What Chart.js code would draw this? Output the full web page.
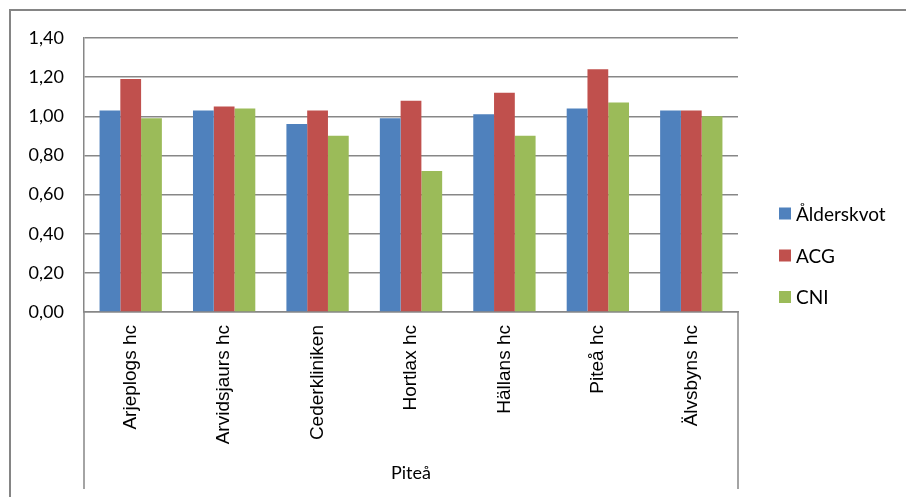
<!DOCTYPE html>
<html>
<head>
<meta charset="utf-8">
<script src="https://cdn.jsdelivr.net/npm/chart.js@4.4.0/dist/chart.umd.min.js"></script>
<style>
  html, body { margin: 0; padding: 0; background: #ffffff; }
  #wrap { width: 906px; height: 497px; }
</style>
</head>
<body>
<div id="wrap"><canvas id="c" width="906" height="497"></canvas></div>
<script>
// Health centres in the Piteå area and their three ratios
const categories = ['Arjeplogs hc', 'Arvidsjaurs hc', 'Cederkliniken', 'Hortlax hc', 'Hällans hc', 'Piteå hc', 'Älvsbyns hc'];
const groupLabel = 'Piteå';
const seriesNames = ['Ålderskvot', 'ACG', 'CNI'];
const alderskvot = [1.03, 1.03, 0.96, 0.99, 1.01, 1.04, 1.03];
const acg        = [1.19, 1.05, 1.03, 1.08, 1.12, 1.24, 1.03];
const cni        = [0.99, 1.04, 0.90, 0.72, 0.90, 1.07, 1.00];
const yMin = 0, yMax = 1.4, yStep = 0.2;

const colors = ['#4F81BD', '#C0504D', '#9BBB59'];
const lineGray = '#878787';
const calibriLike = 'Lato, "Open Sans", sans-serif';

// Frame, category dividers, group label and legend
const framePlugin = {
  id: 'frame',
  beforeDraw(chart) {
    const ctx = chart.ctx;
    ctx.save();
    ctx.fillStyle = '#ffffff';
    ctx.fillRect(0, 0, chart.width, chart.height);
    ctx.restore();
  },
  afterDraw(chart) {
    const ctx = chart.ctx;
    const a = chart.chartArea;
    ctx.save();
    // outer border
    ctx.strokeStyle = '#858585';
    ctx.lineWidth = 2;
    ctx.beginPath();
    ctx.moveTo(10, chart.height + 2);
    ctx.lineTo(10, 10);
    ctx.lineTo(chart.width + 2, 10);
    ctx.stroke();
    // dividers of the category group
    ctx.strokeStyle = lineGray;
    ctx.lineWidth = 1.5;
    ctx.beginPath();
    ctx.moveTo(a.left, a.bottom);
    ctx.lineTo(a.left, 489);
    ctx.moveTo(a.right, a.bottom);
    ctx.lineTo(a.right, 489);
    ctx.stroke();
    // group label
    ctx.fillStyle = '#000000';
    ctx.font = '18px ' + calibriLike;
    ctx.textAlign = 'center';
    ctx.textBaseline = 'middle';
    ctx.fillText(groupLabel, (a.left + a.right) / 2, 473);
    // legend
    const ys = [213.5, 255.5, 297];
    ctx.font = '19px ' + calibriLike;
    ctx.textAlign = 'left';
    chart.data.datasets.forEach((ds, i) => {
      ctx.fillStyle = ds.backgroundColor;
      ctx.fillRect(779, ys[i] - 6, 12, 12);
      ctx.fillStyle = '#000000';
      ctx.fillText(ds.label, 796, ys[i] + 1);
    });
    ctx.restore();
  }
};

new Chart(document.getElementById('c'), {
  type: 'bar',
  data: {
    labels: categories,
    datasets: [
      { label: seriesNames[0], data: alderskvot, backgroundColor: colors[0] },
      { label: seriesNames[1], data: acg, backgroundColor: colors[1] },
      { label: seriesNames[2], data: cni, backgroundColor: colors[2] }
    ]
  },
  options: {
    responsive: false,
    devicePixelRatio: 1,
    animation: false,
    categoryPercentage: 0.667,
    barPercentage: 1.0,
    layout: { padding: { top: 38, right: 168, left: 0, bottom: 0 } },
    plugins: {
      legend: { display: false },
      tooltip: { enabled: false }
    },
    scales: {
      x: {
        grid: { display: false, drawTicks: false },
        border: { display: true, color: lineGray, width: 1.5 },
        ticks: {
          autoSkip: false,
          minRotation: 90,
          maxRotation: 90,
          padding: 13,
          color: '#000000',
          font: { family: '"Liberation Sans", Arial, sans-serif', size: 19 }
        },
        afterFit(scale) { scale.height = 185; }
      },
      y: {
        min: yMin,
        max: yMax,
        grid: { color: lineGray, lineWidth: 1.5, drawTicks: false },
        border: { display: true, color: lineGray, width: 1.5 },
        ticks: {
          stepSize: yStep,
          padding: 20,
          color: '#000000',
          font: { family: calibriLike, size: 18 },
          callback: (v) => Number(v).toFixed(2).replace('.', ',')
        },
        afterFit(scale) { scale.width = 84; }
      }
    }
  },
  plugins: [framePlugin]
});
</script>
</body>
</html>
